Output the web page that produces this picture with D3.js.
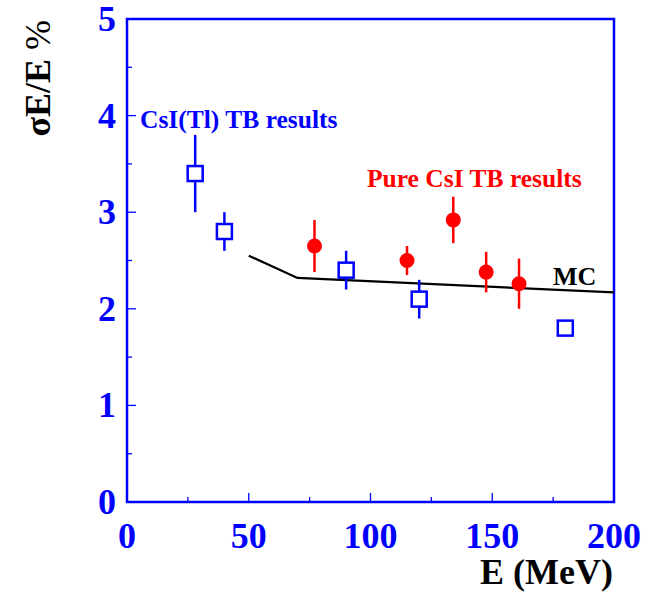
<!DOCTYPE html>
<html>
<head>
<meta charset="utf-8">
<script src="https://cdn.jsdelivr.net/npm/d3@7"></script>
<style>
  body { margin: 0; background: #fff; }
  text { font-family: "Liberation Serif", "Times New Roman", serif; font-weight: bold; }
</style>
</head>
<body>
<div class="chart"></div>
<script>
// CsI(Tl) test beam results: energy, resolution, error
const tlEnergy = [28, 40, 90, 120, 180];
const tlRes = [3.4, 2.8, 2.4, 2.1, 1.8];
const tlErr = [0.4, 0.2, 0.2, 0.2, 0.04];

// pure CsI test beam results
const pureEnergy = [77, 115, 134, 147.5, 161];
const pureRes = [2.65, 2.5, 2.92, 2.38, 2.26];
const pureErr = [0.27, 0.15, 0.24, 0.21, 0.26];

// MC curve
const mcEnergy = [50, 70, 200];
const mcRes = [2.55, 2.32, 2.17];

const xTicks = [0, 50, 100, 150, 200];
const yTicks = [0, 1, 2, 3, 4, 5];

const margin = { top: 19, right: 47, bottom: 90, left: 127 };
const width = 661 - margin.left - margin.right;
const height = 592 - margin.top - margin.bottom;

const blue = "#0000ff";
const red = "#ff0000";

const svg = d3.select(".chart")
  .append("svg")
  .attr("width", 661)
  .attr("height", 592)
  .append("g")
  .attr("transform", `translate(${margin.left},${margin.top})`);

const xScale = d3.scaleLinear().domain([0, 200]).range([0, width]);
const yScale = d3.scaleLinear().domain([0, 5]).range([height, 0]);

// inside ticks, major and minor
const ticksG = svg.append("g").attr("stroke", blue).attr("stroke-width", 1.3);
d3.range(0, 201, 25).forEach((v) => {
  const len = v % 50 === 0 ? 9 : 5;
  ticksG.append("line")
    .attr("x1", xScale(v)).attr("x2", xScale(v))
    .attr("y1", height).attr("y2", height - len);
});
d3.range(0, 5.01, 0.5).forEach((v) => {
  const len = Math.abs(v % 1) < 1e-6 ? 9 : 5;
  ticksG.append("line")
    .attr("x1", 0).attr("x2", len)
    .attr("y1", yScale(v)).attr("y2", yScale(v));
});

// frame
svg.append("rect")
  .attr("x", 0).attr("y", 0)
  .attr("width", width).attr("height", height)
  .attr("fill", "none")
  .attr("stroke", blue)
  .attr("stroke-width", 2.5);

// tick labels
svg.append("g")
  .selectAll("text")
  .data(xTicks)
  .join("text")
  .attr("x", (d) => xScale(d))
  .attr("y", height + 46)
  .attr("text-anchor", "middle")
  .attr("fill", blue)
  .style("font-size", "36px")
  .text((d) => d);

svg.append("g")
  .selectAll("text")
  .data(yTicks)
  .join("text")
  .attr("x", -11)
  .attr("y", (d) => yScale(d) + 12)
  .attr("text-anchor", "end")
  .attr("fill", blue)
  .style("font-size", "36px")
  .text((d) => d);

// axis titles
svg.append("text")
  .attr("x", width - 1)
  .attr("y", height + 82)
  .attr("text-anchor", "end")
  .attr("fill", "#000")
  .style("font-size", "36px")
  .text("E (MeV)");

svg.append("text")
  .attr("transform", `translate(${-77},1) rotate(-90)`)
  .attr("text-anchor", "end")
  .attr("fill", "#000")
  .style("font-size", "36px")
  .html('σE/E <tspan style="font-weight:normal">%</tspan>');

// MC line
const line = d3.line()
  .x((d, i) => xScale(mcEnergy[i]))
  .y((d) => yScale(d));

svg.append("path")
  .datum(mcRes)
  .attr("d", line)
  .attr("fill", "none")
  .attr("stroke", "#000")
  .attr("stroke-width", 2.2);

// pure CsI points
const pure = svg.append("g");
pure.selectAll("line")
  .data(pureRes)
  .join("line")
  .attr("x1", (d, i) => xScale(pureEnergy[i]))
  .attr("x2", (d, i) => xScale(pureEnergy[i]))
  .attr("y1", (d, i) => yScale(d + pureErr[i]))
  .attr("y2", (d, i) => yScale(d - pureErr[i]))
  .attr("stroke", red)
  .attr("stroke-width", 2.5);
pure.selectAll("circle")
  .data(pureRes)
  .join("circle")
  .attr("cx", (d, i) => xScale(pureEnergy[i]))
  .attr("cy", (d) => yScale(d))
  .attr("r", 7.5)
  .attr("fill", red);

// CsI(Tl) points
const tl = svg.append("g");
const sq = 15;
tl.selectAll("line")
  .data(tlRes)
  .join("line")
  .attr("x1", (d, i) => xScale(tlEnergy[i]))
  .attr("x2", (d, i) => xScale(tlEnergy[i]))
  .attr("y1", (d, i) => yScale(d + tlErr[i]))
  .attr("y2", (d, i) => yScale(d - tlErr[i]))
  .attr("stroke", blue)
  .attr("stroke-width", 2.5);
tl.selectAll("rect")
  .data(tlRes)
  .join("rect")
  .attr("x", (d, i) => xScale(tlEnergy[i]) - sq / 2)
  .attr("y", (d) => yScale(d) - sq / 2)
  .attr("width", sq)
  .attr("height", sq)
  .attr("fill", "#fff")
  .attr("stroke", blue)
  .attr("stroke-width", 2.5);

// annotations
svg.append("text")
  .attr("x", 13)
  .attr("y", yScale(3.87))
  .attr("fill", blue)
  .style("font-size", "25.5px")
  .text("CsI(Tl) TB results");

svg.append("text")
  .attr("x", 240)
  .attr("y", yScale(3.26))
  .attr("fill", red)
  .style("font-size", "25.5px")
  .text("Pure CsI TB results");

svg.append("text")
  .attr("x", 426)
  .attr("y", yScale(2.25))
  .attr("fill", "#000")
  .style("font-size", "26px")
  .text("MC");
</script>
</body>
</html>
